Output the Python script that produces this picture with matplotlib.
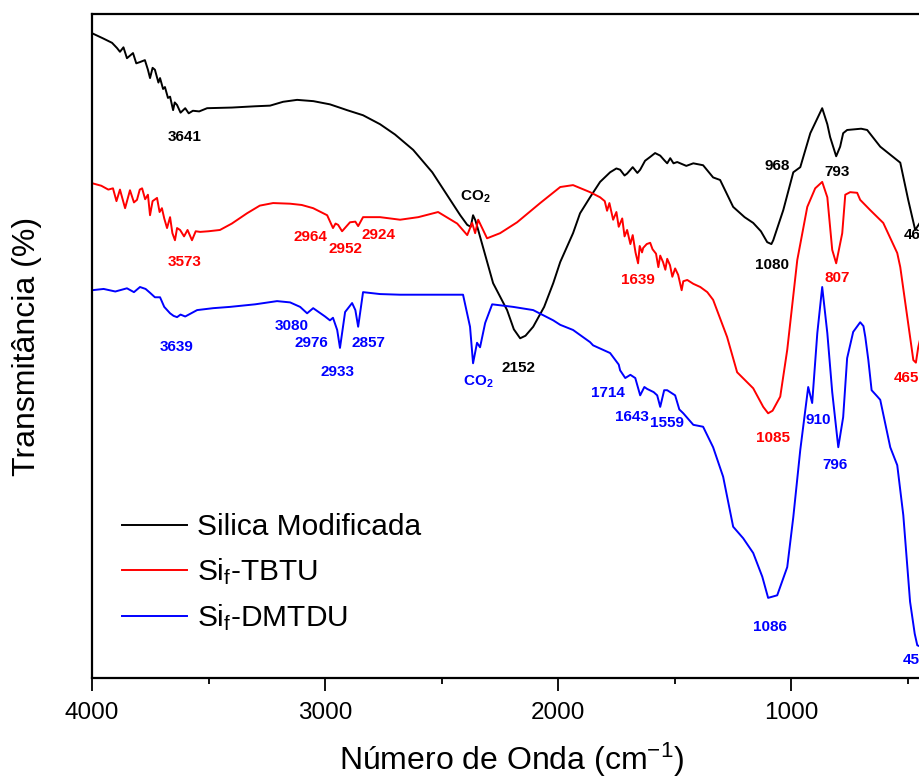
import numpy as np
import matplotlib
matplotlib.use("Agg")
from matplotlib import pyplot as plt

plt.rcParams['font.family'] = ['Liberation Sans', 'DejaVu Sans']
plt.rcParams['mathtext.fontset'] = 'custom'
plt.rcParams['mathtext.rm'] = 'Liberation Sans'
plt.rcParams['mathtext.it'] = 'Liberation Sans:italic'
plt.rcParams['mathtext.bf'] = 'Liberation Sans:bold'

# --- espectros FTIR (numero de onda em cm-1, transmitancia em u.a.)
silica = [(4000, 96.7), (3953, 95.9), (3914, 95.2), (3893, 94.4), (3880, 93.8), (3865, 94.5),
          (3850, 92.8), (3824, 93.6), (3810, 92.0), (3794, 92.2), (3773, 92.5), (3760, 91.0),
          (3751, 89.7), (3740, 91.3), (3730, 91.0), (3715, 89.0), (3708, 89.7), (3695, 88.0),
          (3687, 88.3), (3674, 86.6), (3665, 86.8), (3652, 84.7), (3645, 85.9), (3635, 85.5),
          (3620, 84.3), (3600, 85.0), (3585, 84.2), (3567, 84.6), (3540, 84.5), (3506, 85.0),
          (3400, 85.1), (3300, 85.3), (3236, 85.4), (3180, 86.0), (3120, 86.3), (3050, 86.1),
          (2979, 85.6), (2930, 85.0), (2906, 84.7), (2837, 83.9), (2764, 82.5), (2700, 80.9),
          (2622, 78.5), (2540, 75.0), (2463, 70.7), (2420, 68.3), (2390, 66.8), (2375, 66.5),
          (2365, 68.3), (2355, 67.5), (2343, 66.0), (2279, 57.7), (2219, 53.5), (2190, 50.5),
          (2163, 49.1), (2140, 49.5), (2107, 50.9), (2060, 54.0), (2021, 57.7), (1991, 61.0),
          (1936, 65.5), (1906, 68.6), (1863, 71.1), (1820, 73.5), (1777, 75.0), (1750, 75.6),
          (1734, 75.4), (1715, 74.5), (1704, 74.8), (1680, 75.8), (1660, 74.9), (1648, 75.4),
          (1627, 76.8), (1605, 77.4), (1584, 78.0), (1562, 77.6), (1545, 76.9), (1532, 76.4),
          (1519, 77.2), (1505, 76.4), (1489, 76.6), (1450, 76.0), (1420, 76.4), (1378, 76.1),
          (1335, 74.2), (1305, 73.8), (1249, 69.6), (1200, 68.0), (1163, 67.1), (1130, 65.8),
          (1103, 64.1), (1085, 63.8), (1077, 64.4), (1034, 69.1), (991, 75.0), (961, 75.8),
          (918, 81.1), (867, 85.0), (845, 82.5), (833, 80.5), (807, 77.5), (790, 79.0),
          (777, 81.1), (760, 81.6), (700, 81.8), (674, 81.6), (618, 79.0), (532, 76.5),
          (498, 70.7), (468, 66.0), (450, 67.0)]

tbtu = [(4000, 73.3), (3960, 72.9), (3930, 72.3), (3910, 72.5), (3895, 70.5), (3880, 72.3),
        (3858, 69.4), (3837, 72.2), (3820, 70.3), (3807, 70.7), (3795, 72.3), (3785, 72.5),
        (3772, 70.8), (3760, 71.5), (3751, 68.3), (3740, 70.5), (3721, 71.0), (3710, 68.8),
        (3700, 69.4), (3690, 67.8), (3678, 66.3), (3665, 68.0), (3655, 65.5), (3644, 64.4),
        (3635, 66.3), (3622, 66.0), (3605, 65.0), (3590, 66.0), (3571, 64.4), (3555, 65.8),
        (3536, 65.7), (3500, 65.8), (3451, 66.0), (3400, 67.0), (3335, 68.6), (3280, 69.8),
        (3223, 70.2), (3150, 70.1), (3100, 69.9), (3051, 69.4), (2991, 68.3), (2966, 66.3),
        (2955, 67.0), (2944, 66.8), (2927, 65.8), (2893, 67.2), (2870, 67.3), (2858, 66.6),
        (2837, 68.0), (2764, 68.0), (2678, 67.6), (2600, 68.0), (2536, 68.6), (2515, 68.8),
        (2433, 67.0), (2390, 65.2), (2369, 67.1), (2356, 65.5), (2343, 67.6), (2305, 64.7),
        (2249, 65.5), (2176, 67.2), (2077, 70.2), (1991, 72.7), (1936, 73.0), (1863, 71.9),
        (1820, 71.1), (1800, 70.5), (1790, 69.0), (1780, 70.2), (1764, 67.6), (1750, 68.8),
        (1740, 66.5), (1725, 67.8), (1715, 65.0), (1704, 66.0), (1690, 63.8), (1680, 65.2),
        (1668, 62.5), (1657, 60.8), (1650, 63.5), (1640, 62.5), (1635, 63.2), (1620, 63.8),
        (1605, 64.0), (1595, 63.0), (1580, 62.3), (1570, 60.2), (1562, 62.0), (1550, 61.0),
        (1540, 59.8), (1532, 61.5), (1520, 60.5), (1510, 58.7), (1498, 60.0), (1485, 59.0),
        (1470, 56.6), (1463, 58.0), (1446, 58.2), (1420, 57.6), (1390, 57.1), (1360, 56.3),
        (1335, 55.1), (1275, 49.3), (1232, 43.8), (1163, 41.3), (1120, 38.4), (1099, 37.4),
        (1080, 37.8), (1047, 40.0), (1017, 47.3), (974, 61.3), (931, 69.6), (897, 72.5),
        (867, 73.5), (845, 71.1), (824, 62.9), (807, 60.8), (781, 65.5), (768, 71.5),
        (747, 71.9), (717, 71.8), (704, 70.7), (661, 69.1), (605, 67.1), (545, 62.4),
        (532, 60.2), (502, 52.4), (476, 45.7), (465, 45.3), (455, 47.7), (440, 50.0)]

dmtdu = [(4000, 56.6), (3950, 56.8), (3900, 56.4), (3850, 56.9), (3820, 56.3), (3794, 57.1),
         (3770, 56.8), (3751, 56.2), (3730, 55.5), (3708, 55.5), (3690, 54.0), (3665, 53.0),
         (3650, 52.6), (3635, 52.4), (3620, 52.8), (3600, 52.5), (3549, 53.5), (3480, 53.8),
         (3408, 54.0), (3300, 54.4), (3206, 54.9), (3150, 54.7), (3107, 54.0), (3077, 53.0),
         (3051, 53.8), (3000, 52.5), (2979, 51.9), (2966, 52.3), (2948, 50.4), (2936, 47.6),
         (2914, 53.2), (2884, 54.6), (2870, 53.5), (2858, 50.9), (2837, 56.3), (2764, 56.0),
         (2678, 55.9), (2500, 55.9), (2408, 55.9), (2378, 50.9), (2365, 45.2), (2348, 48.4),
         (2335, 47.7), (2313, 51.5), (2283, 54.4), (2193, 54.0), (2107, 53.5), (2021, 51.9),
         (1991, 51.2), (1936, 50.4), (1863, 48.5), (1850, 48.0), (1777, 46.8), (1740, 45.0),
         (1734, 44.1), (1712, 42.9), (1690, 43.4), (1669, 42.9), (1648, 40.2), (1630, 41.5),
         (1618, 41.2), (1590, 40.7), (1575, 40.2), (1562, 38.4), (1545, 41.0), (1532, 41.0),
         (1498, 40.2), (1480, 38.0), (1463, 37.4), (1420, 35.6), (1378, 35.3), (1335, 32.1),
         (1292, 27.5), (1249, 19.7), (1206, 17.9), (1163, 15.6), (1124, 11.9), (1099, 8.6),
         (1060, 9.0), (1017, 13.4), (991, 21.2), (961, 31.7), (927, 41.5), (910, 39.0),
         (888, 49.9), (867, 57.1), (845, 49.9), (824, 40.7), (798, 32.1), (777, 36.8),
         (760, 46.0), (734, 50.1), (704, 51.6), (690, 51.0), (682, 49.3), (669, 45.7),
         (655, 41.0), (630, 40.0), (618, 39.5), (575, 32.1), (545, 29.3), (519, 21.5),
         (490, 8.0), (470, 3.0), (459, 1.2), (445, 1.0)]

nomes = ['Silica Modificada', 'Si$_\\mathregular{f}$-TBTU', 'Si$_\\mathregular{f}$-DMTDU']
cores = ['black', '#ff0000', '#0000ff']

# rotulos dos picos: (texto, numero de onda, transmitancia, cor, alinhamento)
picos = [('3641', 3601, 80.5, 'black', 'center'),
         ('CO$_\\mathbf{2}$', 2356, 71.1, 'black', 'center'),
         ('2152', 2172, 44.5, 'black', 'center'),
         ('968', 1060, 76.0, 'black', 'center'),
         ('793', 802, 75.0, 'black', 'center'),
         ('1080', 1081, 60.5, 'black', 'center'),
         ('468', 519, 65.2, 'black', 'left'),
         ('3573', 3601, 61.0, '#ff0000', 'center'),
         ('2964', 3064, 64.9, '#ff0000', 'center'),
         ('2952', 2914, 63.0, '#ff0000', 'center'),
         ('2924', 2772, 65.2, '#ff0000', 'center'),
         ('1639', 1657, 58.2, '#ff0000', 'center'),
         ('807', 802, 58.5, '#ff0000', 'center'),
         ('1085', 1077, 33.5, '#ff0000', 'center'),
         ('465', 558, 42.9, '#ff0000', 'left'),
         ('3639', 3635, 47.7, '#0000ff', 'center'),
         ('3080', 3142, 51.0, '#0000ff', 'center'),
         ('2976', 3060, 48.4, '#0000ff', 'center'),
         ('2933', 2948, 43.8, '#0000ff', 'center'),
         ('2857', 2815, 48.4, '#0000ff', 'center'),
         ('CO$_\\mathbf{2}$', 2343, 42.3, '#0000ff', 'center'),
         ('1714', 1785, 40.6, '#0000ff', 'center'),
         ('1643', 1682, 36.8, '#0000ff', 'center'),
         ('1559', 1532, 35.9, '#0000ff', 'center'),
         ('910', 884, 36.3, '#0000ff', 'center'),
         ('796', 811, 29.3, '#0000ff', 'center'),
         ('1086', 1090, 4.1, '#0000ff', 'center'),
         ('459', 523, -1.1, '#0000ff', 'left')]

fig = plt.figure(figsize=(9.19, 7.81), dpi=100)
ax = fig.add_axes([0.1001, 0.1319, 0.9130, 0.8502])

for dados, nome, cor in zip([silica, tbtu, dmtdu], nomes, cores):
    d = np.array(dados)
    ax.plot(d[:, 0], d[:, 1], color=cor, lw=1.4, label=nome)

for txt, x, y, cor, ha in picos:
    ax.text(x, y, txt, color=cor, fontsize=11, fontweight='bold',
            ha=ha, va='center')

ax.set_xlim(4000, 400)
ax.set_ylim(-3.9, 99.7)
ax.set_xticks([4000, 3000, 2000, 1000])
ax.set_xticks([3500, 2500, 1500, 500], minor=True)
ax.tick_params(axis='x', which='major', direction='out', length=9, width=1.3,
               labelsize=17.5, pad=8.5)
ax.tick_params(axis='x', which='minor', direction='out', length=4.5, width=1.3)
ax.tick_params(axis='y', left=False, labelleft=False)
for s in ax.spines.values():
    s.set_linewidth(1.6)

ax.set_xlabel('Número de Onda (cm$^{-1}$)', fontsize=23, labelpad=12)
fig.text(27 / 919, 1 - 346 / 781, 'Transmitância (%)', fontsize=23,
         rotation=90, ha='center', va='center')

ax.legend(loc='center left', bbox_to_anchor=(0.036, 0.158), frameon=False,
          fontsize=21.5, handlelength=2.17, handletextpad=0.33,
          labelspacing=0.5, borderpad=0, borderaxespad=0)

fig.savefig('out.png', dpi=100)
